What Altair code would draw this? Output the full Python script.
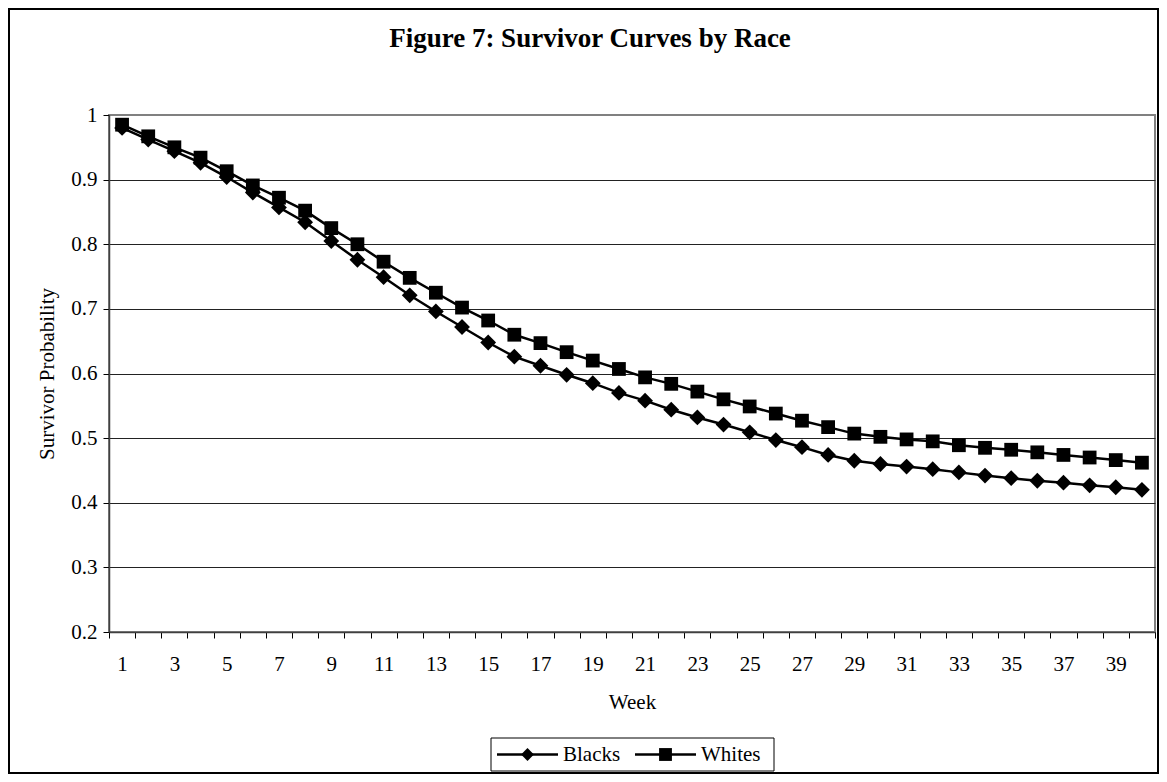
import altair as alt
import pandas as pd

# ---------------- data ----------------
weeks = list(range(1, 41))
series_names = ["Blacks", "Whites"]
blacks = [0.980, 0.962, 0.944, 0.926, 0.904, 0.880, 0.857, 0.834, 0.805, 0.776,
          0.749, 0.721, 0.696, 0.672, 0.648, 0.626, 0.612, 0.598, 0.585, 0.570,
          0.558, 0.544, 0.532, 0.521, 0.509, 0.497, 0.486, 0.474, 0.465, 0.460,
          0.456, 0.452, 0.447, 0.442, 0.438, 0.434, 0.431, 0.427, 0.424, 0.420]
whites = [0.985, 0.967, 0.950, 0.934, 0.913, 0.891, 0.872, 0.852, 0.825, 0.800,
          0.773, 0.748, 0.725, 0.702, 0.682, 0.660, 0.647, 0.633, 0.620, 0.607,
          0.594, 0.584, 0.572, 0.560, 0.549, 0.538, 0.527, 0.517, 0.507, 0.502,
          0.498, 0.495, 0.489, 0.485, 0.482, 0.478, 0.474, 0.470, 0.466, 0.462]
y_ticks = [0.2, 0.3, 0.4, 0.5, 0.6, 0.7, 0.8, 0.9, 1.0]
x_tick_bounds = [w - 0.5 for w in weeks] + [weeks[-1] + 0.5]
title_text = "Figure 7: Survivor Curves by Race"

rows = []
for name, vals in zip(series_names, [blacks, whites]):
    for w, v in zip(weeks, vals):
        rows.append({"week": w, "value": v, "series": name, "marker": name})
df = pd.DataFrame(rows)

# ---------------- layout ----------------
W, H = 1046, 517
FONT = "Liberation Serif"
band = W / len(weeks)

shape_scale = alt.Scale(domain=series_names, range=["diamond", "square"])

x_enc = alt.X(
    "week:Q",
    scale=alt.Scale(domain=[0.5, 40.5], nice=False, zero=False),
    axis=alt.Axis(
        values=x_tick_bounds,
        title="Week",
        labelExpr="((datum.value + 0.5) % 2 == 1 && datum.value < 40) ? '' + (datum.value + 0.5) : ''",
        labelOffset=band / 2,
        labelFlush=False,
        labelOverlap=False,
        grid=False,
        tickSize=6,
        tickColor="#000000",
        tickWidth=1,
        domainColor="#404040",
        domainWidth=1.5,
        labelPadding=15,
        titleX=W / 2,
        titleY=70,
        titleBaseline="middle",
    ),
)
y_enc = alt.Y(
    "value:Q",
    scale=alt.Scale(domain=[0.2, 1.0], nice=False, zero=False),
    axis=alt.Axis(
        values=y_ticks,
        format=".1~f",
        title="Survivor Probability",
        grid=True,
        gridColor={"condition": {"test": "datum.value >= 0.999", "value": "#808080"}, "value": "#222222"},
        gridWidth=1,
        tickSize=6,
        tickColor="#000000",
        domainColor="#404040",
        domainWidth=1.5,
        labelPadding=6,
        labelFlush=False,
        labelOverlap=False,
        titleX=-62,
        titleY=H / 2,
        titleBaseline="middle",
    ),
)

lines = alt.Chart(df).mark_line(strokeWidth=2.5, color="black").encode(
    x=x_enc, y=y_enc, detail="series:N"
)

points = alt.Chart(df).mark_point(filled=True, opacity=1, color="black").encode(
    x=x_enc,
    y=y_enc,
    shape=alt.Shape("marker:N", scale=shape_scale, legend=None),
    size=alt.Size(
        "marker:N",
        scale=alt.Scale(domain=series_names, range=[250, 190]),
        legend=None,
    ),
)

# ---------------- decorations: frame, title, legend box ----------------
one = alt.Data(values=[{"k": 0}])
frame = alt.Chart(one).mark_rect(fill="transparent", stroke="black", strokeWidth=2).encode(
    x=alt.value(-100), x2=alt.value(1049), y=alt.value(-106), y2=alt.value(658)
)
title = alt.Chart(one).mark_text(
    text=title_text, font=FONT, fontSize=27, fontWeight="bold", color="black",
    align="center", baseline="middle",
).encode(x=alt.value(481), y=alt.value(-76))

LEG_X, LEG_Y, LEG_W, LEG_H = 382, 623, 283, 33
leg_cy = LEG_Y + LEG_H / 2
legend_box = alt.Chart(one).mark_rect(fill="white", stroke="black", strokeWidth=1).encode(
    x=alt.value(LEG_X), x2=alt.value(LEG_X + LEG_W), y=alt.value(LEG_Y), y2=alt.value(LEG_Y + LEG_H)
)

legend_layers = [legend_box]
item_starts = [LEG_X + 6, LEG_X + 144]
for name, x0 in zip(series_names, item_starts):
    item = alt.Data(values=[{"marker": name}])
    legend_layers.append(
        alt.Chart(item).mark_rule(color="black", strokeWidth=2.5).encode(
            x=alt.value(x0), x2=alt.value(x0 + 61), y=alt.value(leg_cy)
        )
    )
    legend_layers.append(
        alt.Chart(item).mark_point(filled=True, opacity=1, color="black", size=165).encode(
            x=alt.value(x0 + 30.5), y=alt.value(leg_cy),
            shape=alt.Shape("marker:N", scale=shape_scale, legend=None),
        )
    )
    legend_layers.append(
        alt.Chart(item).mark_text(
            font=FONT, fontSize=21, color="black", align="left", baseline="middle"
        ).encode(x=alt.value(x0 + 66), y=alt.value(leg_cy), text="marker:N")
    )

chart = (
    alt.layer(frame, title, lines, points, *legend_layers)
    .properties(
        width=W,
        height=H,
        autosize=alt.AutoSizeParams(type="none"),
        padding={"left": 101, "top": 107, "right": 4, "bottom": 142},
        background="white",
    )
    .configure_view(stroke="#808080", strokeWidth=2)
    .configure_axis(
        labelFont=FONT,
        titleFont=FONT,
        labelFontSize=21,
        titleFontSize=21,
        labelColor="black",
        titleColor="black",
        titleFontWeight="normal",
    )
)

chart.save("out.html", embed_options={"renderer": "svg", "actions": False})
